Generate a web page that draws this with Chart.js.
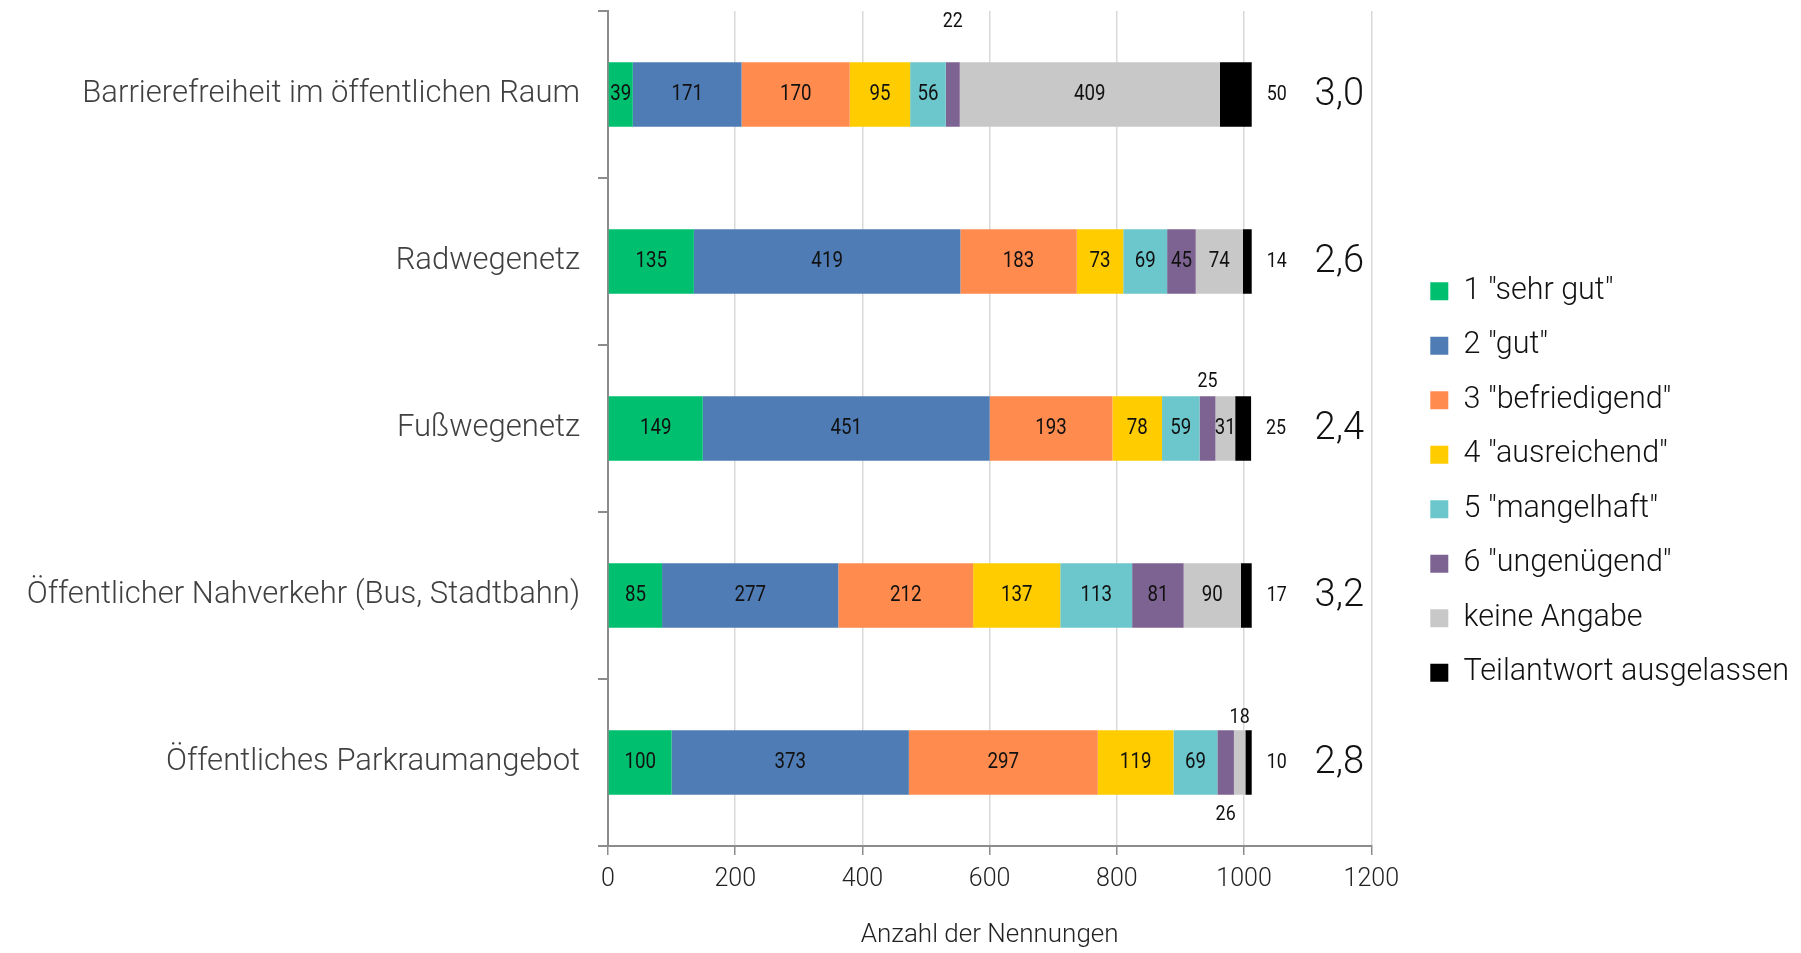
<!DOCTYPE html>
<html>
<head>
<meta charset="utf-8">
<script src="https://cdn.jsdelivr.net/npm/chart.js@4/dist/chart.umd.min.js"></script>
<style>
  html, body { margin: 0; padding: 0; background: #fff; }
  #wrap { width: 1801px; height: 953px; }
</style>
</head>
<body>
<div id="wrap"><canvas id="chart"></canvas></div>
<script>
const categories = [
    'Barrierefreiheit im öffentlichen Raum',
    'Radwegenetz',
    'Fußwegenetz',
    'Öffentlicher Nahverkehr (Bus, Stadtbahn)',
    'Öffentliches Parkraumangebot'
];
const seriesNames = [
    '1 "sehr gut"', '2 "gut"', '3 "befriedigend"', '4 "ausreichend"',
    '5 "mangelhaft"', '6 "ungenügend"', 'keine Angabe', 'Teilantwort ausgelassen'
];
const sehrGut      = [39, 135, 149, 85, 100];
const gut          = [171, 419, 451, 277, 373];
const befriedigend = [170, 183, 193, 212, 297];
const ausreichend  = [95, 73, 78, 137, 119];
const mangelhaft   = [56, 69, 59, 113, 69];
const ungenuegend  = [22, 45, 25, 81, 26];
const keineAngabe  = [409, 74, 31, 90, 18];
const ausgelassen  = [50, 14, 25, 17, 10];
const averages     = ['3,0', '2,6', '2,4', '3,2', '2,8'];
const xTicks       = [0, 200, 400, 600, 800, 1000, 1200];

const colors = ['#00bf6f', '#4f7cb5', '#ff8b4f', '#ffcc00', '#6cc7cc', '#7d6391', '#c8c8c8', '#000000'];
const series = [sehrGut, gut, befriedigend, ausreichend, mangelhaft, ungenuegend, keineAngabe, ausgelassen];

// labels drawn outside the bar: "dataset-category" -> pixel offset (neg = above top, pos = below bottom)
const outside = { '5-0': -41, '5-2': -15, '6-4': -13, '5-4': 20 };

const lightFont = "Roboto, 'Liberation Sans', sans-serif";
const LEGEND_GAP = 35; // extra space between plot and legend

// narrow text: Roboto squeezed horizontally
function narrowText(ctx, text, x, y, size, align) {
    ctx.save();
    ctx.font = size + 'px ' + lightFont;
    ctx.textAlign = align;
    ctx.textBaseline = 'middle';
    ctx.translate(x, y);
    ctx.scale(0.85, 1);
    ctx.fillText(text, 0, 0);
    ctx.restore();
}

const labelPlugin = {
    id: 'segmentLabels',
    afterInit(chart) {
        const legend = chart.legend;
        const fit = legend.fit;
        legend.fit = function () {
            fit.call(this);
            this.width += LEGEND_GAP;
        };
    },
    afterLayout(chart) {
        chart.legend.left += LEGEND_GAP;
    },
    afterDatasetsDraw(chart) {
        const ctx = chart.ctx;
        ctx.save();
        ctx.fillStyle = '#111';
        const last = series.length - 1;
        chart.data.datasets.forEach((ds, di) => {
            const meta = chart.getDatasetMeta(di);
            meta.data.forEach((bar, ci) => {
                const v = ds.data[ci];
                const left = Math.min(bar.x, bar.base);
                const right = Math.max(bar.x, bar.base);
                const top = bar.y - bar.height / 2;
                const bottom = bar.y + bar.height / 2;
                if (di === last) {
                    narrowText(ctx, v, right + 15, bar.y, 21, 'left');
                    return;
                }
                const key = di + '-' + ci;
                if (key in outside) {
                    const off = outside[key];
                    const y = off < 0 ? top + off : bottom + off;
                    narrowText(ctx, v, (left + right) / 2, y, 21, 'center');
                } else {
                    narrowText(ctx, v, (left + right) / 2, bar.y, 22, 'center');
                }
            });
        });
        // average grade per category
        const yScale = chart.scales.y;
        ctx.font = '300 38px ' + lightFont;
        ctx.textAlign = 'center';
        ctx.textBaseline = 'middle';
        averages.forEach((a, i) => {
            ctx.fillText(a, chart.chartArea.right - 32, yScale.getPixelForValue(i) + 1);
        });
        ctx.restore();
    }
};

new Chart(document.getElementById('chart'), {
    type: 'bar',
    data: {
        labels: categories,
        datasets: series.map((d, i) => ({
            label: seriesNames[i],
            data: d,
            backgroundColor: colors[i],
            borderWidth: 0,
            barPercentage: 0.385,
            categoryPercentage: 1
        }))
    },
    options: {
        indexAxis: 'y',
        responsive: true,
        maintainAspectRatio: false,
        animation: false,
        layout: { padding: { top: 11, left: 0, right: 2, bottom: 0 } },
        scales: {
            x: {
                stacked: true,
                min: 0,
                max: 1200,
                afterBuildTicks: (s) => { s.ticks = xTicks.map(v => ({ value: v })); },
                afterFit: (s) => { s.height = 107; },
                grid: { color: '#d9d9d9', lineWidth: 1.5, tickLength: 9, tickColor: '#8c8c8c' },
                border: { color: '#8c8c8c', width: 2 },
                ticks: {
                    color: '#222',
                    padding: 10,
                    callback: (v) => String(v),
                    font: { family: lightFont, size: 25, weight: 300 }
                },
                title: {
                    display: true,
                    text: 'Anzahl der Nennungen',
                    color: '#222',
                    padding: { top: 0, bottom: 2 },
                    font: { family: lightFont, size: 26, weight: 300 }
                }
            },
            y: {
                stacked: true,
                afterFit: (s) => { s.width = 608; s.paddingTop = 0; s.paddingBottom = 0; },
                grid: { offset: true, drawOnChartArea: false, tickLength: 10, tickColor: '#8c8c8c', lineWidth: 2 },
                border: { color: '#8c8c8c', width: 2 },
                ticks: { color: '#404040', padding: 18, font: { family: lightFont, size: 31, weight: 300 } }
            }
        },
        plugins: {
            legend: {
                position: 'right',
                labels: {
                    boxWidth: 18,
                    boxHeight: 18,
                    padding: 24,
                    color: '#111',
                    font: { family: lightFont, size: 30.5, weight: 300 }
                }
            },
            tooltip: { enabled: false }
        }
    },
    plugins: [labelPlugin]
});
</script>
</body>
</html>
